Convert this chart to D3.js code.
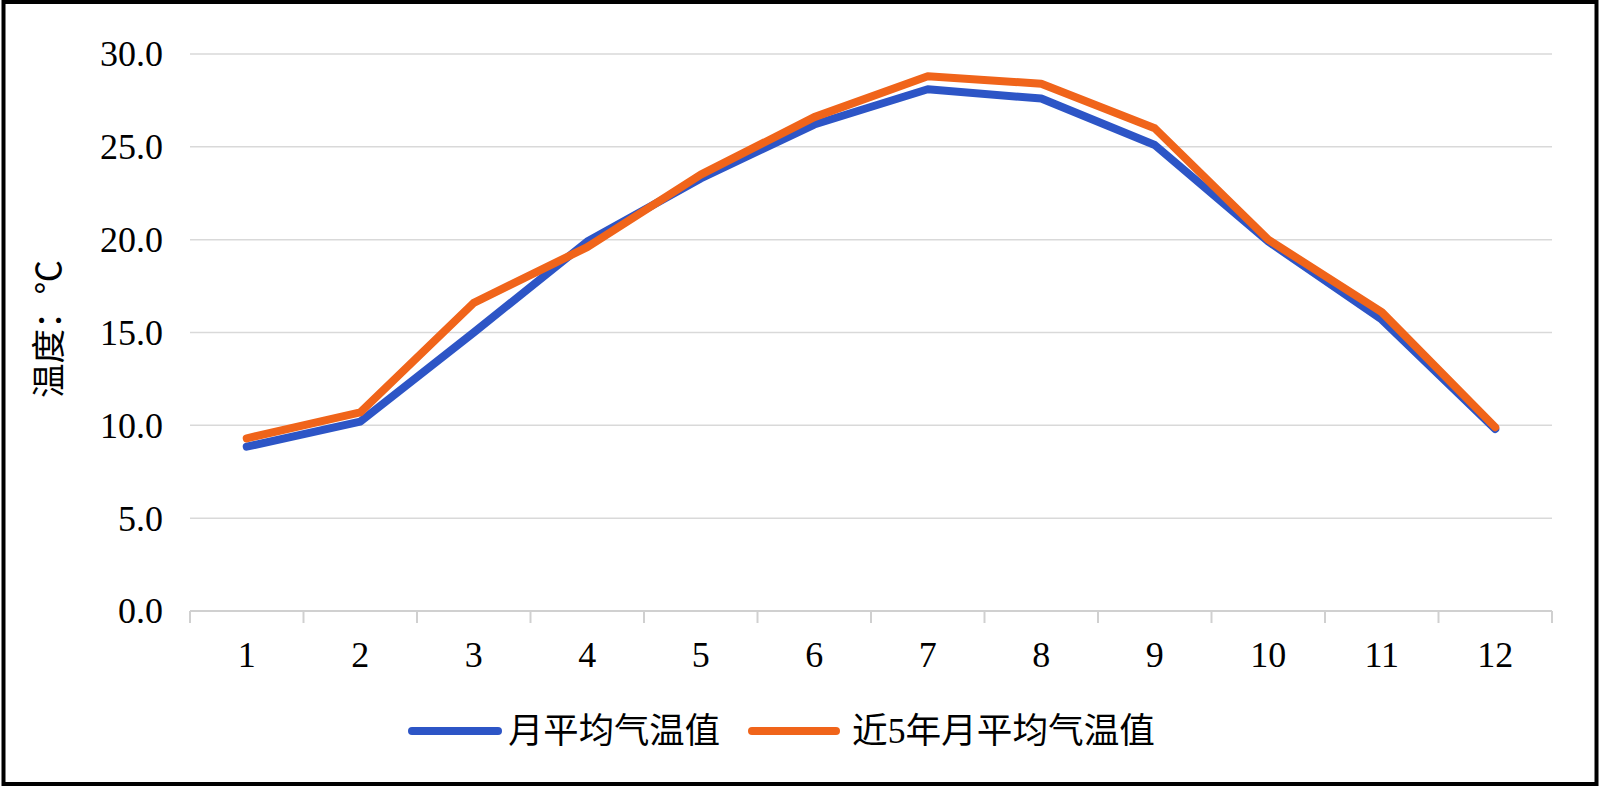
<!DOCTYPE html>
<html><head><meta charset="utf-8">
<script src="https://cdn.jsdelivr.net/npm/d3@7"></script>
<style>html,body{margin:0;padding:0;background:#fff;overflow:hidden}</style>
</head><body>
<svg id="chart" width="1600" height="788"></svg>
<script>
const months = ["1","2","3","4","5","6","7","8","9","10","11","12"];
const monthlyAvg = [8.85, 10.2, 15.0, 19.9, 23.3, 26.2, 28.1, 27.6, 25.1, 19.9, 15.7, 9.8];
const fiveYearAvg = [9.3, 10.7, 16.6, 19.6, 23.5, 26.6, 28.8, 28.4, 26.0, 20.0, 16.1, 9.9];
const yTicks = [0, 5, 10, 15, 20, 25, 30];
const seriesNames = ["月平均气温值", "近5年月平均气温值"];
const seriesColors = ["#2D55C6", "#F0641A"];
const yTitle = "温度：℃";

(function () {
const svg = d3.select("#chart");
svg.append("rect").attr("x", 3.5).attr("y", 2).attr("width", 1593).attr("height", 782)
  .attr("fill", "#fff").attr("stroke", "#000").attr("stroke-width", 4);

const pL = 190, pR = 1552, pT = 54, pB = 611;
const x = d3.scaleBand().domain(months).range([pL, pR]).padding(0);
const y = d3.scaleLinear().domain([0, 30]).range([pB, pT]);
const numFont = "'Liberation Serif', 'Times New Roman', serif";
const cjkFont = "'Liberation Serif', 'Noto Sans CJK SC', serif";

// gridlines
svg.append("g").selectAll("line").data(yTicks.filter(d => d > 0)).join("line")
  .attr("x1", pL).attr("x2", pR)
  .attr("y1", d => y(d)).attr("y2", d => y(d))
  .attr("stroke", "#d9d9d9").attr("stroke-width", 1.5);

// y axis labels
const yAxis = d3.axisLeft(y).tickValues(yTicks).tickFormat(d3.format(".1f")).tickSize(0).tickPadding(0);
const gy = svg.append("g").attr("transform", `translate(163,0)`).call(yAxis);
gy.select(".domain").remove();
gy.selectAll("text").attr("font-family", numFont).attr("font-size", 36).attr("fill", "#000").attr("dy", "0.33em");

// x axis
const xAxis = d3.axisBottom(x).tickSize(0).tickPadding(0);
const gx = svg.append("g").attr("transform", `translate(0,${pB})`).call(xAxis);
gx.select(".domain").remove();
gx.selectAll("text").attr("font-family", numFont).attr("font-size", 36).attr("fill", "#000").attr("dy", null).attr("y", 56);
// axis line and boundary ticks
svg.append("line").attr("x1", pL).attr("x2", pR).attr("y1", pB).attr("y2", pB)
  .attr("stroke", "#d0d0d0").attr("stroke-width", 2);
const bounds = months.map(m => x(m)).concat([x(months[months.length-1]) + x.bandwidth()]);
svg.append("g").selectAll("line").data(bounds).join("line")
  .attr("x1", d => d).attr("x2", d => d).attr("y1", pB).attr("y2", pB + 12)
  .attr("stroke", "#d0d0d0").attr("stroke-width", 2);

// lines
const line = d3.line().x((d, i) => x(months[i]) + x.bandwidth() / 2).y(d => y(d));
[monthlyAvg, fiveYearAvg].forEach((vals, i) => {
  svg.append("path").datum(vals).attr("d", line).attr("fill", "none")
    .attr("stroke", seriesColors[i]).attr("stroke-width", 8)
    .attr("stroke-linejoin", "round").attr("stroke-linecap", "round");
});

// y title
svg.append("text").attr("transform", "translate(61,329) rotate(-90)")
  .attr("text-anchor", "middle").attr("font-family", cjkFont).attr("font-size", 34)
  .attr("textLength", 138).attr("lengthAdjust", "spacingAndGlyphs")
  .attr("fill", "#000").text(yTitle);

// legend
const legend = [
  {x1: 412, x2: 498, tx: 508, tw: 212},
  {x1: 752, x2: 836, tx: 852, tw: 303}
];
legend.forEach((L, i) => {
  svg.append("line").attr("x1", L.x1).attr("x2", L.x2).attr("y1", 731).attr("y2", 731)
    .attr("stroke", seriesColors[i]).attr("stroke-width", 8).attr("stroke-linecap", "round");
  svg.append("text").attr("x", L.tx).attr("y", 743).attr("font-family", cjkFont).attr("font-size", 35)
    .attr("textLength", L.tw).attr("lengthAdjust", "spacingAndGlyphs")
    .attr("fill", "#000").text(seriesNames[i]);
});
})();
</script>
</body></html>
